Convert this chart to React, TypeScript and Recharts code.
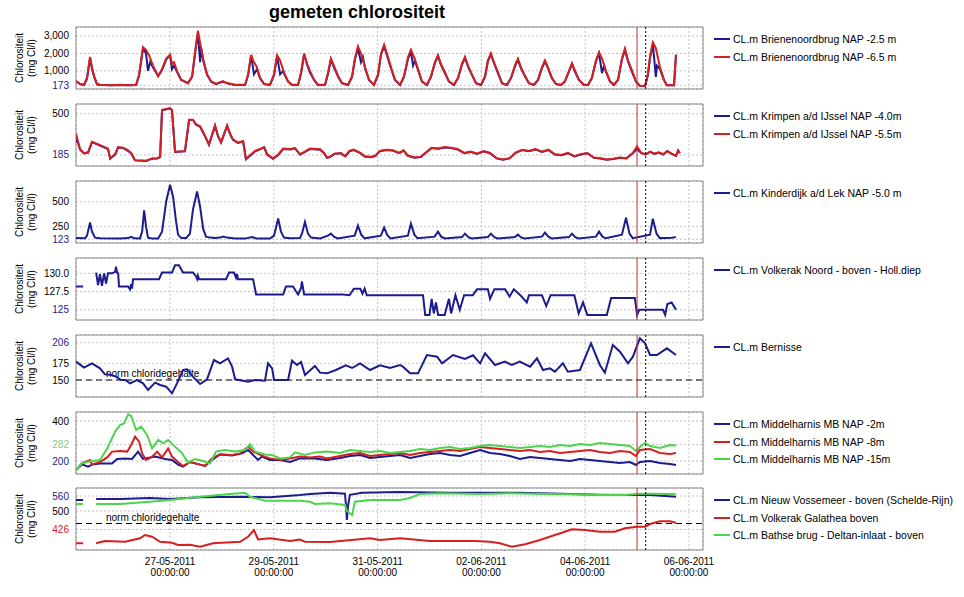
import React from 'react';
import { LineChart, Line, XAxis, YAxis, CartesianGrid, ReferenceLine, ReferenceArea } from 'recharts';

type P = [number, number | null];

const BLUE = '#1c1c8e';
const RED = '#d42020';
const GREEN = '#4cd44c';

// x values: hours since 25-05-2011 00:00
const timeDomain: [number, number] = [4.5, 294.5];
const timeTicks = [48, 96, 144, 192, 240, 288];
const timeTickLabels = ['27-05-2011', '29-05-2011', '31-05-2011', '02-06-2011', '04-06-2011', '06-06-2011'];
const timeTickSub = '00:00:00';
const markerRed = 264;
const markerDotted = 268;

// Panel 1: Brienenoordbrug
const bri25: P[] = [[4.5,400],[6.4,240],[8.2,190],[9.6,550],[11.0,1750],[11.9,1100],[12.9,650],[14.2,230],[15.6,190],[20.3,170],[24.9,190],[29.5,170],[32.3,190],[33.7,750],[35.5,2300],[36.9,2000],[37.8,1000],[38.8,1500],[40.1,1200],[42.5,700],[44.3,1050],[46.2,1650],[48.0,1900],[48.9,1100],[49.8,1300],[51.2,950],[53.1,480],[56.3,290],[58.2,650],[60.0,2400],[60.9,3150],[61.9,1500],[62.4,2300],[63.3,1600],[65.1,780],[67.0,380],[69.3,240],[71.1,330],[72.5,380],[74.4,290],[78.1,190],[82.7,190],[84.1,750],[85.5,1900],[86.8,800],[88.2,1100],[89.6,580],[91.5,240],[94.2,190],[96.1,750],[97.5,1850],[98.9,800],[100.3,1000],[100.7,850],[102.6,380],[104.4,190],[107.2,190],[108.6,850],[110.0,1950],[111.4,1350],[112.7,900],[114.6,480],[116.4,190],[119.7,190],[121.1,850],[122.4,1650],[123.8,1200],[125.7,680],[127.5,290],[130.3,190],[132.2,650],[133.5,1650],[134.9,2300],[136.3,1500],[137.2,1800],[138.2,1150],[140.0,480],[142.3,190],[144.2,750],[145.6,1950],[147.0,2400],[148.3,1900],[150.2,1150],[152.0,480],[154.4,190],[156.2,650],[158.1,1700],[159.4,2100],[160.4,1300],[161.3,1600],[162.7,1050],[164.5,380],[166.8,190],[168.7,650],[170.5,1450],[171.9,1850],[173.3,1350],[175.2,850],[177.0,380],[179.3,190],[181.2,580],[183.0,1350],[184.4,1750],[185.8,1250],[187.6,780],[189.5,290],[191.8,190],[193.7,650],[195.0,1550],[196.4,1950],[197.8,1450],[199.7,850],[201.5,290],[203.8,190],[205.7,580],[207.5,1250],[208.9,1650],[210.3,1150],[212.2,680],[214.0,290],[216.3,190],[218.2,480],[220.0,1150],[221.4,1550],[222.8,1150],[224.6,580],[226.5,240],[228.8,190],[230.6,380],[232.5,950],[233.9,1400],[235.3,950],[237.1,480],[239.4,190],[241.3,190],[243.1,580],[245.0,1550],[246.4,2000],[247.8,870],[248.7,1300],[249.6,950],[251.5,380],[253.3,190],[255.2,480],[257.0,1650],[258.4,2200],[259.8,1550],[261.6,950],[263.5,380],[265.3,140],[267.7,120],[269.0,750],[270.0,1750],[271.3,2550],[272.7,660],[273.2,1300],[274.6,1100],[276.4,480],[277.8,170],[281.1,170],[282.0,1900]];
const bri65: P[] = [[4.5,420],[6.4,250],[8.2,200],[9.6,600],[11.0,1800],[11.9,1200],[12.9,700],[14.2,250],[15.6,200],[20.3,180],[24.9,200],[29.5,180],[32.3,200],[33.7,800],[35.5,2350],[36.9,2200],[38.3,1900],[40.1,1300],[42.5,700],[44.3,1100],[46.2,1700],[48.0,1920],[48.9,1400],[49.8,1500],[51.2,1000],[53.1,500],[56.3,300],[58.2,700],[60.0,2500],[60.9,3300],[61.9,2600],[63.3,1700],[65.1,800],[67.0,400],[69.3,250],[71.1,350],[72.5,400],[74.4,300],[78.1,200],[82.7,200],[84.1,800],[85.5,1920],[86.4,1600],[88.2,1200],[89.6,600],[91.5,250],[94.2,200],[96.1,800],[97.5,1900],[98.9,1600],[100.7,900],[102.6,400],[104.4,200],[107.2,200],[108.6,900],[110.0,2000],[111.4,1400],[112.7,1000],[114.6,500],[116.4,200],[119.7,200],[121.1,900],[122.4,1700],[123.8,1300],[125.7,700],[127.5,300],[130.3,200],[132.2,700],[133.5,1700],[134.9,2400],[136.3,2000],[138.2,1200],[140.0,500],[142.3,200],[144.2,800],[145.6,2000],[147.0,2500],[148.3,2000],[150.2,1200],[152.0,500],[154.4,200],[156.2,700],[158.1,1800],[159.4,2200],[160.8,1800],[162.7,1100],[164.5,400],[166.8,200],[168.7,700],[170.5,1500],[171.9,1900],[173.3,1400],[175.2,900],[177.0,400],[179.3,200],[181.2,600],[183.0,1400],[184.4,1800],[185.8,1300],[187.6,800],[189.5,300],[191.8,200],[193.7,700],[195.0,1600],[196.4,2000],[197.8,1500],[199.7,900],[201.5,300],[203.8,200],[205.7,600],[207.5,1300],[208.9,1700],[210.3,1200],[212.2,700],[214.0,300],[216.3,200],[218.2,500],[220.0,1200],[221.4,1600],[222.8,1200],[224.6,600],[226.5,250],[228.8,200],[230.6,400],[232.5,1000],[233.9,1430],[235.3,1000],[237.1,500],[239.4,200],[241.3,200],[243.1,600],[245.0,1600],[246.4,2050],[247.8,1700],[249.6,1000],[251.5,400],[253.3,200],[255.2,500],[257.0,1700],[258.4,2280],[259.8,1600],[261.6,1040],[263.5,400],[265.3,150],[267.7,130],[269.0,800],[270.0,1800],[271.3,2640],[272.7,2300],[274.6,1200],[276.4,500],[277.8,180],[281.1,180],[282.0,1940]];

// Panel 2: Krimpen a/d IJssel
const krim40: P[] = [[4.5,281],[5.0,300],[6.4,225],[8.2,196],[10.1,203],[11.9,283],[15.6,257],[19.3,230],[20.3,156],[22.6,188],[24.0,242],[26.3,237],[28.2,220],[30.0,198],[31.8,143],[36.9,138],[39.7,156],[42.0,158],[43.4,168],[44.3,527],[48.0,540],[48.9,527],[50.3,208],[54.9,212],[56.8,452],[58.6,452],[60.0,417],[61.9,401],[64.2,327],[66.0,263],[68.8,407],[70.2,327],[71.6,280],[74.4,407],[75.7,347],[77.1,301],[79.4,276],[81.8,288],[83.1,151],[87.3,212],[89.6,227],[91.5,242],[92.9,188],[95.6,156],[97.9,183],[100.3,230],[103.5,227],[105.8,235],[108.1,188],[110.4,208],[112.7,230],[117.4,225],[119.2,198],[120.6,163],[122.0,168],[124.0,193],[127.0,198],[129.0,173],[131.0,213],[133.0,222],[136.0,198],[138.0,173],[141.0,168],[143.0,178],[145.0,213],[148.0,222],[151.0,218],[154.0,198],[156.0,218],[158.0,178],[161.0,163],[164.0,168],[166.0,198],[169.0,237],[172.0,232],[175.0,242],[178.0,237],[181.0,227],[184.0,198],[187.0,208],[190.0,193],[193.0,213],[196.0,198],[199.0,158],[202.0,148],[205.0,158],[208.0,203],[211.0,222],[214.0,213],[217.0,227],[220.0,208],[223.0,222],[226.0,188],[229.0,183],[232.0,198],[235.0,173],[238.0,188],[241.0,198],[244.0,163],[247.0,158],[250.0,148],[253.0,153],[256.0,163],[259.0,158],[262.0,198],[264.0,230],[266.0,198],[268.0,188],[270.0,208],[272.0,193],[274.0,203],[276.0,188],[278.0,213],[280.0,193],[282.0,178],[283.0,218],[283.8,198]];
const krim55: P[] = [[4.5,347],[6.4,228],[8.2,198],[10.1,205],[11.9,286],[15.6,260],[19.3,233],[20.3,158],[22.6,190],[24.0,245],[26.3,240],[28.2,223],[30.0,200],[31.8,145],[36.9,140],[39.7,158],[42.0,160],[43.4,170],[44.3,530],[48.0,543],[48.9,530],[50.3,210],[54.9,215],[56.8,455],[58.6,455],[60.0,420],[61.9,404],[64.2,330],[66.0,266],[68.8,410],[70.2,330],[71.6,283],[74.4,410],[75.7,350],[77.1,304],[79.4,279],[81.8,291],[83.1,153],[87.3,215],[89.6,230],[91.5,245],[92.9,190],[95.6,158],[97.9,185],[100.3,233],[103.5,230],[105.8,238],[108.1,190],[110.4,210],[112.7,233],[117.4,228],[119.2,200],[120.6,165],[122.0,170],[124.0,195],[127.0,200],[129.0,175],[131.0,215],[133.0,225],[136.0,200],[138.0,175],[141.0,170],[143.0,180],[145.0,215],[148.0,225],[151.0,220],[154.0,200],[156.0,220],[158.0,180],[161.0,165],[164.0,170],[166.0,200],[169.0,240],[172.0,235],[175.0,245],[178.0,240],[181.0,230],[184.0,200],[187.0,210],[190.0,195],[193.0,215],[196.0,200],[199.0,160],[202.0,150],[205.0,160],[208.0,205],[211.0,225],[214.0,215],[217.0,230],[220.0,210],[223.0,225],[226.0,190],[229.0,185],[232.0,200],[235.0,175],[238.0,190],[241.0,200],[244.0,165],[247.0,160],[250.0,150],[253.0,155],[256.0,165],[259.0,160],[262.0,200],[264.0,250],[266.0,200],[268.0,190],[270.0,210],[272.0,195],[274.0,205],[276.0,190],[278.0,215],[280.0,195],[282.0,180],[283.0,220],[283.8,200]];

// Panel 3: Kinderdijk a/d Lek
const kind50: P[] = [[4.5,136],[8.7,134],[9.6,160],[11.0,291],[11.9,200],[13.3,140],[15.6,133],[24.9,130],[28.6,135],[30.0,148],[31.4,133],[34.1,132],[35.1,200],[36.0,413],[36.9,250],[37.8,140],[39.7,132],[42.5,132],[44.3,200],[46.2,500],[48.0,670],[49.4,550],[50.8,300],[51.7,170],[53.1,138],[55.4,135],[57.2,180],[58.6,420],[60.5,604],[61.9,450],[63.3,230],[64.6,150],[66.5,140],[68.8,135],[71.1,140],[72.5,150],[74.4,140],[78.1,132],[82.7,130],[85.9,145],[87.8,132],[94.2,130],[96.1,160],[98.0,331],[99.3,200],[100.7,140],[103.5,133],[108.1,135],[109.0,180],[110.4,297],[111.8,180],[113.2,140],[117.4,132],[121.0,160],[122.4,180],[123.8,150],[125.5,132],[133.4,160],[134.9,260],[136.4,170],[138.0,133],[145.5,160],[147.0,240],[148.5,165],[150.0,132],[158.0,160],[159.4,280],[161.0,170],[162.5,133],[170.4,150],[171.9,200],[173.4,150],[175.0,132],[183.0,145],[184.4,180],[186.0,145],[187.5,132],[195.0,145],[196.4,180],[198.0,145],[199.5,132],[207.5,145],[208.9,170],[210.4,142],[212.0,132],[220.0,150],[221.4,190],[223.0,150],[224.5,132],[232.5,145],[233.9,180],[235.4,145],[237.0,132],[245.0,150],[246.4,200],[248.0,150],[249.5,133],[257.0,170],[258.9,340],[260.5,180],[262.0,135],[270.0,170],[271.3,330],[273.0,180],[274.5,135],[280.0,138],[282.0,145]];

// Panel 4: Volkerak Noord
const volk: P[] = [[4.5,128.2],[7.8,128.2],[10,null],[13.8,130.1],[14.7,128.4],[15.6,129.9],[16.5,128.3],[17.5,130.0],[18.4,128.6],[19.3,130.0],[21.2,130.0],[22.6,130.2],[23.0,130.9],[23.5,130.1],[24.0,130.0],[24.4,128.2],[28.6,128.2],[29.5,127.8],[30.0,128.5],[30.4,127.9],[30.9,129.2],[42.9,129.2],[44.3,130.1],[48.9,130.1],[50.3,131.1],[52.1,131.1],[54.0,130.1],[58.6,130.1],[60.0,129.6],[60.5,129.2],[60.9,129.7],[61.4,129.2],[73.9,129.2],[75.3,130.1],[77.6,130.1],[78.5,129.4],[79.0,129.9],[79.4,129.2],[86.4,129.2],[87.8,127.1],[100.3,127.1],[101.6,128.2],[104.9,128.2],[106.3,127.5],[107.2,127.1],[108.6,128.0],[109.0,128.9],[110.0,127.1],[128,127.1],[131,127.0],[133,127.9],[136,127.9],[137,127.2],[138,127.9],[139,127.0],[165,127.0],[166,124.3],[168,124.3],[169,126.5],[170,124.5],[171,126.0],[172,124.3],[175,124.3],[177,126.5],[178,124.5],[180,127.0],[182,125.0],[184,127.0],[188,127.0],[190,127.8],[195,127.8],[196,126.5],[198,127.8],[203,127.8],[205,126.8],[207,127.8],[210,127.0],[213,126.0],[214,127.0],[220,127.0],[222,125.5],[224,127.0],[235,127.0],[237,124.5],[239,126.0],[241,124.3],[250,124.3],[252,126.6],[263,126.6],[264,124.3],[265,125.0],[276,125.0],[277,124.3],[278,125.8],[280,126.0],[282,125.0]];

// Panel 5: Bernisse
const bern: P[] = [[4.5,177.5],[6.4,173],[8.2,168.5],[11.9,175],[15.6,167.5],[17.9,158.5],[20.3,158],[23.0,155],[25.3,150],[27.2,150],[29.5,145],[32.7,150],[35.5,145],[37.8,135],[41.1,146],[43.4,142.5],[46.2,140],[48.9,130],[51.2,145],[54.0,165],[55.9,166],[58.6,155],[61.9,144],[65.1,151],[68.3,180],[71.1,175],[74.8,182.5],[76.7,170],[78.1,151],[84.1,147.5],[87.3,150],[91.9,149],[93.3,175],[95.2,167.5],[96.1,150],[102.6,150],[104.4,179],[106.7,172.5],[108.6,177],[110.4,157.5],[115.0,171],[117.4,161],[120.6,160],[124.7,165],[129.3,172],[132.2,168],[135.9,175],[140.5,165],[145.1,172],[149.7,168],[154.4,172.5],[155.7,170],[159.0,160],[162.7,160],[166.8,187.5],[171.5,185],[173.8,175],[178.9,187.5],[184.4,181.5],[188.1,187],[191.4,175],[193.7,190],[198.3,172.5],[202.9,177.5],[206.1,172.5],[209.8,177.5],[214.5,170],[217.7,182.5],[220.5,165],[223.7,167.5],[226.0,162.5],[229.7,175],[232.0,162.5],[237.6,165],[242.7,205],[246.8,172.5],[249.1,161],[252.8,202.5],[256.1,192.5],[259.8,175],[262.1,185],[265.3,212.5],[267.7,205],[270.0,187.5],[273.2,187.5],[277.8,197.5],[282.0,187.5]];

// Panel 6: Middelharnis
const mid2: P[] = [[4.5,155],[7.3,183],[10.1,172],[11.9,182],[15.6,188],[21.2,188],[23.5,210],[27.2,213],[30.4,210],[33.2,247],[35.5,210],[41.1,222],[45.7,210],[48.9,205],[51.7,182],[54.0,172],[57.2,195],[61.9,182],[64.2,175],[67.4,205],[71.1,233],[76.7,227],[81.3,238],[84.1,255],[88.7,205],[90.5,222],[94.2,205],[98.9,205],[103.5,195],[108.1,213],[115.0,213],[120.6,205],[126.6,215],[131.2,225],[135.9,230],[140.5,215],[145.1,220],[149.7,225],[154.4,230],[159.0,215],[163.6,225],[168.2,235],[172.9,240],[177.5,230],[182.1,225],[186.7,240],[191.4,255],[196.0,240],[200.6,235],[205.2,225],[209.8,210],[214.5,220],[219.1,215],[223.7,210],[228.3,205],[233.0,200],[237.6,210],[242.2,205],[246.8,200],[251.5,195],[256.1,190],[260.7,195],[263.5,180],[265.3,195],[270.0,200],[274.6,190],[279.2,185],[282.0,180]];
const mid8: P[] = [[4.5,155],[7.3,190],[11.0,205],[11.9,183],[15.6,195],[18.9,218],[21.2,247],[24.9,250],[28.2,247],[30.0,280],[31.8,322],[33.7,297],[35.1,238],[36.9,205],[39.7,222],[42.0,247],[44.3,218],[47.1,263],[48.9,222],[51.7,195],[54.0,175],[57.2,195],[61.9,182],[64.2,175],[67.4,213],[71.1,233],[76.7,230],[80.4,238],[84.1,272],[86.4,247],[90.5,227],[94.2,213],[98.9,205],[103.5,213],[108.1,222],[112.7,217],[117.4,222],[120.6,213],[126.6,225],[131.2,235],[135.9,240],[140.5,225],[145.1,230],[149.7,235],[154.4,240],[159.0,230],[163.6,240],[168.2,245],[172.9,250],[177.5,255],[182.1,250],[186.7,260],[191.4,270],[196.0,265],[200.6,260],[205.2,255],[209.8,250],[214.5,255],[219.1,245],[223.7,250],[228.3,240],[233.0,245],[237.6,250],[242.2,255],[246.8,245],[251.5,240],[256.1,250],[260.7,245],[263.5,225],[265.3,255],[270.0,260],[274.6,240],[279.2,235],[282.0,240]];
const mid15: P[] = [[4.5,155],[7.3,188],[10.1,196],[11.9,200],[15.6,205],[18.9,263],[22.6,347],[24.9,380],[26.7,388],[28.6,433],[30.0,425],[32.3,355],[34.6,372],[37.4,330],[39.7,263],[42.5,305],[44.8,288],[47.1,305],[50.3,272],[53.6,238],[56.3,193],[59.6,210],[63.3,200],[66.5,188],[69.3,247],[73.4,255],[78.1,247],[82.7,255],[85.0,283],[87.3,247],[91.9,233],[95.2,230],[98.9,213],[103.5,218],[105.8,243],[110.4,230],[115.0,243],[120.6,247],[126.6,240],[131.2,255],[135.9,250],[140.5,245],[145.1,250],[149.7,240],[154.4,245],[159.0,250],[163.6,260],[168.2,255],[172.9,265],[177.5,270],[182.1,260],[186.7,265],[191.4,275],[196.0,280],[200.6,275],[205.2,270],[209.8,265],[214.5,270],[219.1,275],[223.7,270],[228.3,280],[233.0,275],[237.6,285],[242.2,280],[246.8,290],[251.5,285],[256.1,280],[260.7,275],[263.5,250],[265.3,270],[267.7,290],[270.0,275],[274.6,265],[279.2,280],[282.0,278]];

// Panel 7: Nieuw Vossemeer / Volkerak Galathea / Bathse brug
const vos: P[] = [[4.5,544],[7.8,544],[10,null],[13.8,548],[24.9,548],[38.8,552],[48.0,548],[61.9,555],[80.4,557],[94.2,555],[108.1,564],[112.7,568],[122.0,573],[128.9,569],[129.4,520],[129.8,464],[130.3,520],[131.2,565],[136.8,573],[154.4,576],[177.5,573],[191.4,573],[209.8,573],[228.3,569],[246.8,565],[263.9,564],[270.0,564],[282.0,557]];
const gal: P[] = [[4.5,371],[7.8,371],[10,null],[13.8,371],[17.9,380],[27.2,377],[34.1,391],[36.4,404],[39.7,397],[43.4,377],[48.9,373],[51.7,364],[57.2,365],[61.9,357],[67.9,371],[80.4,377],[84.1,397],[86.8,424],[88.7,386],[94.2,391],[103.5,380],[108.1,386],[110.4,377],[122.0,376],[140.5,391],[145.1,384],[154.4,391],[168.2,380],[189.0,380],[196.0,377],[200.6,371],[206.1,357],[212.2,367],[219.1,384],[226.0,404],[230.6,417],[233.9,427],[239.9,424],[246.8,417],[253.7,417],[258.4,431],[263.9,437],[267.7,437],[270.0,448],[274.6,459],[279.2,459],[282.0,453]];
const bat: P[] = [[4.5,528],[7.8,528],[10,null],[13.8,528],[24.9,528],[38.8,537],[48.0,544],[61.9,557],[75.7,568],[82.7,573],[85.0,557],[91.9,541],[108.1,541],[112.7,537],[115.0,528],[122.0,531],[128.9,524],[129.8,500],[132.2,484],[133.5,537],[140.5,544],[154.4,544],[159.0,552],[163.6,568],[172.9,571],[191.4,568],[205.2,571],[221.4,568],[233.0,567],[246.8,564],[258.4,564],[265.3,569],[274.6,569],[282.0,567]];

const names1 = ['CL.m Brienenoordbrug NAP -2.5 m', 'CL.m Brienenoordbrug NAP -6.5 m'];
const names2 = ['CL.m Krimpen a/d IJssel NAP -4.0m', 'CL.m Krimpen a/d IJssel NAP -5.5m'];
const names3 = ['CL.m Kinderdijk a/d Lek NAP -5.0 m'];
const names4 = ['CL.m Volkerak Noord - boven - Holl.diep'];
const names5 = ['CL.m Bernisse'];
const names6 = ['CL.m Middelharnis MB NAP -2m', 'CL.m Middelharnis MB NAP -8m', 'CL.m Middelharnis MB NAP -15m'];
const names7 = ['CL.m Nieuw Vossemeer - boven (Schelde-Rijn)', 'CL.m Volkerak Galathea boven', 'CL.m Bathse brug - Deltan-inlaat - boven'];

const normValue5 = 150;
const normValue7 = 450;
const normText = 'norm chloridegehalte';

const toPts = (a: P[]) => a.map(([t, v]) => ({ t, v }));

type Series = { data: P[]; color: string; name: string };
type PanelDef = {
  top: number;
  domain: [number, number];
  ticks: number[];
  tickLabels: string[];
  tickColors: string[];
  series: Series[];
  norm?: number;
  showX?: boolean;
};

const PANEL_H = 62;
const X_AXIS_H = 36;

const panels: PanelDef[] = [
  { top: 27, domain: [-40, 3515], ticks: [173, 1000, 2000, 3000], tickLabels: ['173', '1,000', '2,000', '3,000'], tickColors: [BLUE, '#000', '#000', '#000'],
    series: [{ data: bri25, color: BLUE, name: names1[0] }, { data: bri65, color: RED, name: names1[1] }] },
  { top: 104, domain: [100, 575], ticks: [185, 500], tickLabels: ['185', '500'], tickColors: [BLUE, '#000'],
    series: [{ data: krim40, color: BLUE, name: names2[0] }, { data: krim55, color: RED, name: names2[1] }] },
  { top: 181, domain: [86, 708], ticks: [123, 250, 500], tickLabels: ['123', '250', '500'], tickColors: [BLUE, '#000', '#000'],
    series: [{ data: kind50, color: BLUE, name: names3[0] }] },
  { top: 258, domain: [123.6, 132.1], ticks: [125, 127.5, 130], tickLabels: ['125', '127.5', '130.0'], tickColors: [BLUE, '#000', '#000'],
    series: [{ data: volk, color: BLUE, name: names4[0] }] },
  { top: 335, domain: [124.5, 217.5], ticks: [150, 175, 206], tickLabels: ['150', '175', '206'], tickColors: ['#000', '#000', BLUE],
    series: [{ data: bern, color: BLUE, name: names5[0] }], norm: normValue5 },
  { top: 412, domain: [135, 445], ticks: [200, 282, 400], tickLabels: ['200', '282', '400'], tickColors: [BLUE, '#7ccf7c', '#000'],
    series: [{ data: mid2, color: BLUE, name: names6[0] }, { data: mid8, color: RED, name: names6[1] }, { data: mid15, color: GREEN, name: names6[2] }] },
  { top: 488, domain: [344, 592], ticks: [426, 500, 560], tickLabels: ['426', '500', '560'], tickColors: [RED, '#000', BLUE],
    series: [{ data: vos, color: BLUE, name: names7[0] }, { data: gal, color: RED, name: names7[1] }, { data: bat, color: GREEN, name: names7[2] }], norm: normValue7, showX: true },
];

const FONT = "'Liberation Sans', Arial, sans-serif";

function Panel({ def }: { def: PanelDef }) {
  const mt = 4;
  const mb = def.showX ? 0 : 4;
  const totalH = PANEL_H + mt + mb + (def.showX ? X_AXIS_H : 0);
  const YTick = (props: any) => {
    const { x, y, payload } = props;
    const i = def.ticks.indexOf(payload.value);
    return (
      <text x={x} y={y} dy={3.5} textAnchor="end" fontSize={10} fontFamily={FONT} fill={def.tickColors[i] ?? '#000'}>
        {def.tickLabels[i] ?? String(payload.value)}
      </text>
    );
  };
  const XTick = (props: any) => {
    const { x, y, payload } = props;
    const i = timeTicks.indexOf(payload.value);
    return (
      <g>
        <text x={x} y={y + 15} textAnchor="middle" fontSize={10} fontFamily={FONT} fill="#000">{timeTickLabels[i]}</text>
        <text x={x} y={y + 26} textAnchor="middle" fontSize={10} fontFamily={FONT} fill="#000">{timeTickSub}</text>
      </g>
    );
  };
  const NormLabel = (props: any) => {
    const vb = props.viewBox || {};
    return (
      <text x={(vb.x ?? 0) + 30} y={(vb.y ?? 0) - 3} fontSize={10} fontFamily={FONT} fill="#000">{normText}</text>
    );
  };
  return (
    <div style={{ position: 'absolute', left: 0, top: def.top - mt }}>
      <LineChart width={964} height={totalH} margin={{ top: mt, right: 261, bottom: mb, left: 46 }}>
        <CartesianGrid stroke="#c4c4c4" strokeDasharray="2 2" />
        <XAxis type="number" dataKey="t" domain={timeDomain} ticks={timeTicks} allowDataOverflow hide={!def.showX}
          height={def.showX ? X_AXIS_H : 0} axisLine={false} tickLine={false} tickSize={0} tickMargin={0} interval={0} tick={<XTick />} />
        <YAxis type="number" domain={def.domain} ticks={def.ticks} allowDataOverflow width={30} axisLine={false}
          tickLine={false} tickSize={0} tickMargin={7} interval={0} tick={<YTick />} />
        <ReferenceArea x1={timeDomain[0]} x2={timeDomain[1]} y1={def.domain[0]} y2={def.domain[1]} fill="none" fillOpacity={0} stroke="#8a8a8a" strokeWidth={1} ifOverflow="visible" />
        {def.norm !== undefined && (
          <ReferenceLine y={def.norm} stroke="#000" strokeDasharray="6 4" strokeWidth={1} label={(p: any) => <NormLabel {...p} />} />
        )}
        {def.series.map((s, i) => (
          <Line key={i} data={toPts(s.data)} dataKey="v" type="linear" stroke={s.color} strokeWidth={2} dot={false}
            activeDot={false} isAnimationActive={false} connectNulls={false} name={s.name} />
        ))}
        <ReferenceLine x={markerRed} stroke="#cc2a2a" strokeWidth={1} />
        <ReferenceLine x={markerDotted} stroke="#000" strokeWidth={1} strokeDasharray="2 2" />
      </LineChart>
    </div>
  );
}

function LegendBlock({ def }: { def: PanelDef }) {
  return (
    <div style={{ position: 'absolute', left: 714, top: def.top + 3 }}>
      {def.series.map((s, i) => (
        <div key={i} style={{ display: 'flex', alignItems: 'center', height: 17.7, fontSize: 10.5, fontFamily: FONT, whiteSpace: 'nowrap', color: '#000' }}>
          <span style={{ display: 'inline-block', width: 16, height: 2, background: s.color, marginRight: 3 }} />
          <span>{s.name}</span>
        </div>
      ))}
    </div>
  );
}

export default function App() {
  return (
    <div style={{ position: 'absolute', left: 0, top: 0, width: 964, height: 597, background: '#fff', fontFamily: FONT, overflow: 'hidden' }}>
      <div style={{ position: 'absolute', left: 207, top: 1, width: 300, textAlign: 'center', fontSize: 18, fontWeight: 'bold', lineHeight: '22px' }}>
        gemeten chlorositeit
      </div>
      {panels.map((p, i) => <Panel key={i} def={p} />)}
      {panels.map((p, i) => <LegendBlock key={'l' + i} def={p} />)}
      <svg width={964} height={597} style={{ position: 'absolute', left: 0, top: 0, pointerEvents: 'none' }}>
        {panels.map((p, i) => {
          const c = p.top + PANEL_H / 2;
          return (
            <g key={i} fontSize={10} fontFamily={FONT} fill="#000">
              <text transform={`translate(23, ${c}) rotate(-90)`} textAnchor="middle">Chlorositeit</text>
              <text transform={`translate(35, ${c}) rotate(-90)`} textAnchor="middle">(mg Cl/l)</text>
            </g>
          );
        })}
      </svg>
    </div>
  );
}
